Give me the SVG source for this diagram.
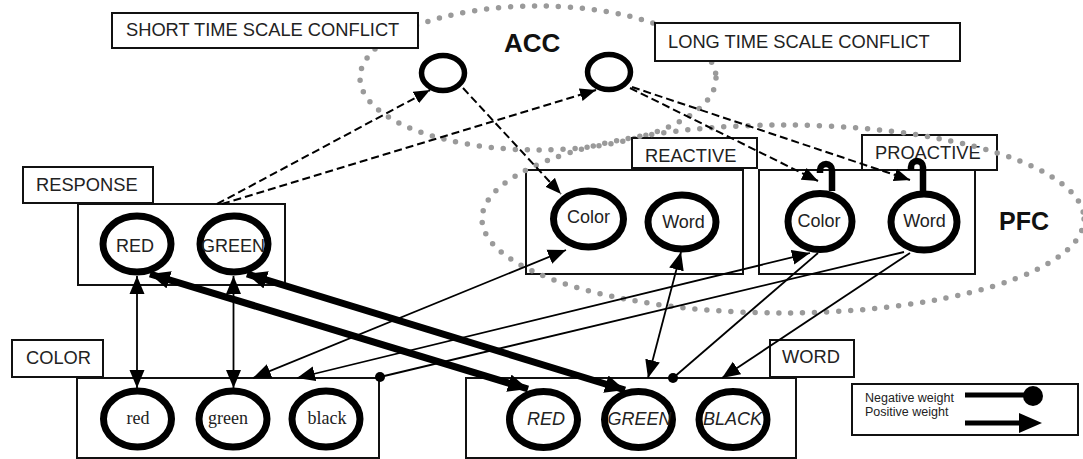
<svg xmlns="http://www.w3.org/2000/svg" width="1083" height="459" viewBox="0 0 1083 459">
<style>
.lbl{font-family:"Liberation Sans",Arial,sans-serif;font-size:18.3px;fill:#222}
.big{font-family:"Liberation Sans",Arial,sans-serif;font-weight:bold;fill:#111}
.nt{font-family:"Liberation Sans",Arial,sans-serif;font-size:18px;fill:#222;text-anchor:middle}
.ns{font-family:"Liberation Serif","Times New Roman",serif;font-size:18px;fill:#222;text-anchor:middle}
.ni{font-family:"Liberation Sans",Arial,sans-serif;font-size:18px;font-style:italic;fill:#222;text-anchor:middle}
.lg{font-family:"Liberation Sans",Arial,sans-serif;font-size:12.5px;fill:#222}
.box{fill:#fff;stroke:#111;stroke-width:2}
.obox{fill:none;stroke:#111;stroke-width:2}
.node{fill:#fff;stroke:#000;stroke-width:7}
.acc{fill:#fff;stroke:#000;stroke-width:5.5}
.dots{fill:none;stroke:#9a9a9a;stroke-width:5.5;stroke-linecap:round;stroke-dasharray:0 12}
.thin{fill:none;stroke:#000;stroke-width:1.8}
.thick{fill:none;stroke:#000;stroke-width:7}
.dash{fill:none;stroke:#000;stroke-width:2;stroke-dasharray:8 4}
.hook{fill:none;stroke:#000;stroke-width:6.5}
</style>
<defs>
<marker id="arr" markerUnits="userSpaceOnUse" markerWidth="20" markerHeight="16" refX="18" refY="8" orient="auto-start-reverse" viewBox="0 0 20 16"><path d="M0,0.5 L18,8 L0,15.5 z" fill="#000"/></marker>
<marker id="arrT" markerUnits="userSpaceOnUse" markerWidth="22" markerHeight="18" refX="20" refY="9" orient="auto-start-reverse" viewBox="0 0 22 18"><path d="M0,0 L20,9 L0,18 z" fill="#000"/></marker>
<marker id="arrD" markerUnits="userSpaceOnUse" markerWidth="18" markerHeight="14" refX="16" refY="7" orient="auto" viewBox="0 0 18 14"><path d="M0,0.5 L16,7 L0,13.5 z" fill="#000"/></marker>
<marker id="dot" markerUnits="userSpaceOnUse" markerWidth="12" markerHeight="12" refX="6" refY="6" viewBox="0 0 12 12"><circle cx="6" cy="6" r="5" fill="#000"/></marker>
</defs>

<g id="acc-region">
<ellipse class="dots" cx="538" cy="78" rx="178" ry="72"/>
<text class="big" x="504" y="52" font-size="26">ACC</text>
</g>

<g id="short-conflict">
<rect class="box" x="112" y="13" width="306" height="35"/>
<text class="lbl" x="126" y="36">SHORT TIME SCALE CONFLICT</text>
<ellipse class="acc" cx="443" cy="73" rx="21.5" ry="17.5"/>
</g>

<g id="long-conflict">
<rect class="box" x="655" y="23" width="305" height="38"/>
<text class="lbl" x="668" y="48">LONG TIME SCALE CONFLICT</text>
<ellipse class="acc" cx="609" cy="72" rx="21.5" ry="17.5"/>
</g>

<g id="response">
<rect class="box" x="78" y="204" width="207" height="81"/>
<rect class="box" x="23" y="167" width="130" height="36"/>
<text class="lbl" x="36" y="191">RESPONSE</text>
<ellipse class="node" cx="137" cy="244" rx="34" ry="28"/>
<text class="nt" x="135" y="252">RED</text>
<ellipse class="node" cx="234" cy="244" rx="34" ry="28"/>
<text class="nt" x="233" y="252" font-size="17.5">GREEN</text>
</g>

<g id="color">
<rect class="box" x="77" y="378" width="302" height="80"/>
<rect class="box" x="12" y="340" width="91" height="37"/>
<text class="lbl" x="26" y="364">COLOR</text>
<ellipse class="node" cx="137.5" cy="419" rx="34" ry="28"/>
<text class="ns" x="138" y="424">red</text>
<ellipse class="node" cx="233" cy="419" rx="34" ry="28"/>
<text class="ns" x="228" y="424">green</text>
<ellipse class="node" cx="326" cy="419" rx="34" ry="28"/>
<text class="ns" x="327" y="424">black</text>
</g>

<g id="word">
<rect class="box" x="466" y="378" width="330" height="80"/>
<rect class="box" x="770" y="340" width="84" height="37"/>
<text class="lbl" x="782" y="363">WORD</text>
<ellipse class="node" cx="543.5" cy="419.5" rx="34" ry="28"/>
<text class="ni" x="546" y="425">RED</text>
<ellipse class="node" cx="638.5" cy="419.5" rx="34" ry="28"/>
<text class="ni" x="639.5" y="425">GREEN</text>
<ellipse class="node" cx="733" cy="419.5" rx="34" ry="28"/>
<text class="ni" x="732.5" y="425">BLACK</text>
</g>

<g id="reactive">
<rect class="box" x="526" y="170" width="217" height="104"/>
<rect class="box" x="632" y="138" width="125" height="30"/>
<text class="lbl" x="645" y="162">REACTIVE</text>
<ellipse class="node" cx="588.5" cy="219" rx="35" ry="28"/>
<text class="nt" x="588.5" y="223">Color</text>
<ellipse class="node" cx="682" cy="222" rx="34" ry="27"/>
<text class="nt" x="683.5" y="228">Word</text>
</g>

<g id="proactive">
<rect class="box" x="759" y="170" width="216" height="104"/>
<rect class="box" x="862" y="135" width="135" height="35"/>
<text class="lbl" x="875" y="159">PROACTIVE</text>
<ellipse class="node" cx="820" cy="221.5" rx="32" ry="28"/>
<text class="nt" x="819" y="227">Color</text>
<ellipse class="node" cx="924" cy="222" rx="33" ry="28"/>
<text class="nt" x="924.5" y="227">Word</text>
</g>

<g id="pfc-region">
<ellipse class="dots" cx="783" cy="219" rx="301" ry="94"/>
<text class="big" x="999" y="230" font-size="25">PFC</text>
</g>

<g id="connectors">
<path class="thin" d="M137,276 L137,388" marker-start="url(#arr)" marker-end="url(#arr)"/>
<path class="thin" d="M233.5,276 L233.5,388" marker-start="url(#arr)" marker-end="url(#arr)"/>
<path class="thick" d="M150,274 L528,389" marker-start="url(#arrT)" marker-end="url(#arrT)"/>
<path class="thick" d="M247,274 L625,390" marker-start="url(#arrT)" marker-end="url(#arrT)"/>
<path class="thin" d="M253,378 L566,250" marker-start="url(#arr)" marker-end="url(#arr)"/>
<path class="thin" d="M297,378 L810,253" marker-start="url(#arr)" marker-end="url(#arr)"/>
<path class="thin" d="M380,377 L904,252" marker-start="url(#dot)"/>
<path class="thin" d="M673,378 L818,253" marker-start="url(#dot)"/>
<path class="thin" d="M910,253 L722,378" marker-end="url(#arr)"/>
<path class="thin" d="M681,252 L648,378" marker-start="url(#arr)" marker-end="url(#arr)"/>
<path class="dash" d="M217,204 L430,90" marker-end="url(#arrD)"/>
<path class="dash" d="M222,204 L596,90" marker-end="url(#arrD)"/>
<path class="dash" d="M463,88 L561,194" marker-end="url(#arrD)"/>
<path class="dash" d="M630,88 L818,181" marker-end="url(#arrD)"/>
<path class="dash" d="M632,87 L910,180" marker-end="url(#arrD)"/>
<path class="hook" d="M832,191 V170 A6,6 0 0 0 820,170 V173"/>
<path class="hook" d="M923,191 V167 A6,6 0 0 0 911,167 V170"/>
</g>

<g id="legend">
<rect class="obox" x="852" y="384" width="226" height="51"/>
<text class="lg" x="865" y="402">Negative weight</text>
<text class="lg" x="865" y="416">Positive weight</text>
<line x1="965" y1="395" x2="1026" y2="395" stroke="#000" stroke-width="5"/>
<circle cx="1033" cy="396" r="10" fill="#000"/>
<line x1="965" y1="423" x2="1022" y2="423" stroke="#000" stroke-width="5"/>
<path d="M1019,413 L1042,423 L1019,433 z" fill="#000"/>
</g>
</svg>
